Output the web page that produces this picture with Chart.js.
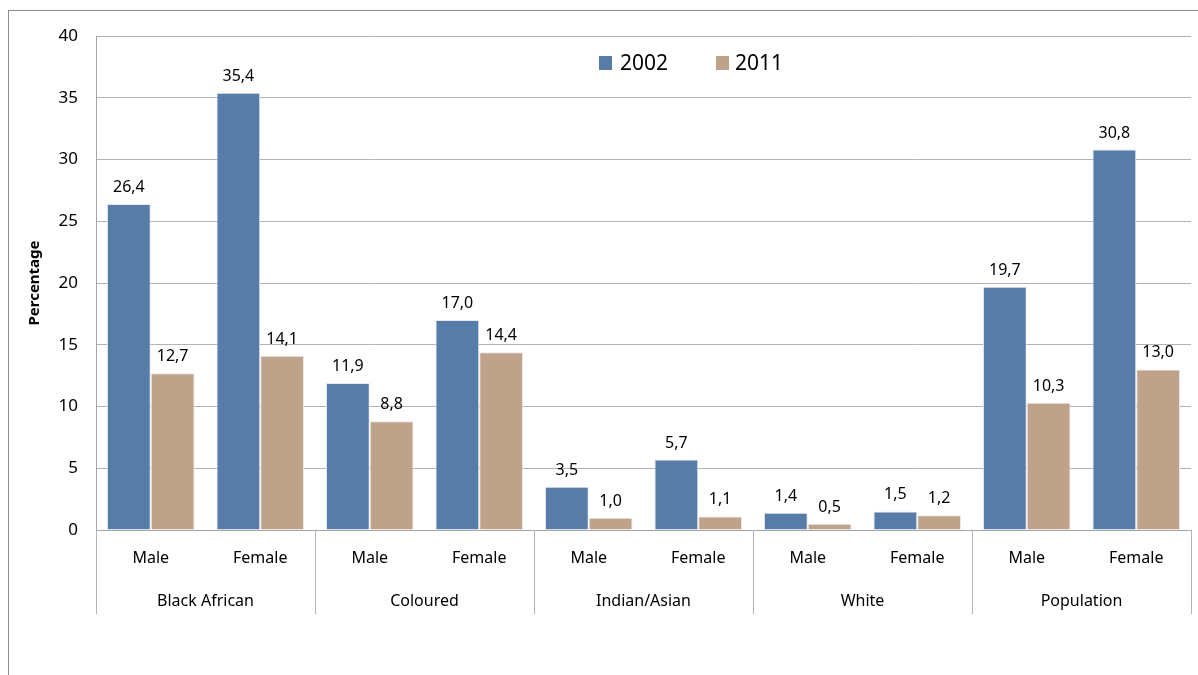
<!DOCTYPE html>
<html>
<head>
<meta charset="utf-8">
<script src="https://cdn.jsdelivr.net/npm/chart.js@4/dist/chart.umd.min.js"></script>
<style>
  html, body { margin: 0; padding: 0; background: #fff; }
  #wrap { width: 1198px; height: 675px; position: relative; }
</style>
</head>
<body>
<div id="wrap"><canvas id="myChart" width="1198" height="675"></canvas></div>
<script>
const sexLabels = ["Male", "Female", "Male", "Female", "Male", "Female", "Male", "Female", "Male", "Female"];
const groupLabels = ["Black African", "Coloured", "Indian/Asian", "White", "Population"];
const values2002 = [26.4, 35.4, 11.9, 17.0, 3.5, 5.7, 1.4, 1.5, 19.7, 30.8];
const values2011 = [12.7, 14.1, 8.8, 14.4, 1.0, 1.1, 0.5, 1.2, 10.3, 13.0];
const seriesNames = ["2002", "2011"];

const FONT = "'Noto Sans', 'Open Sans', sans-serif";
const fmt = v => v.toFixed(1).replace(".", ",");

// Rahmen um das ganze Diagramm
const framePlugin = {
    id: "frame",
    beforeDraw(chart) {
        const ctx = chart.ctx;
        ctx.save();
        ctx.strokeStyle = "#8c8c8c";
        ctx.lineWidth = 1;
        ctx.strokeRect(8.5, 10.5, 1400, 1000);
        ctx.restore();
    },
};

// Werte über den Balken
const valueLabels = {
    id: "valueLabels",
    afterDatasetsDraw(chart) {
        const ctx = chart.ctx;
        ctx.save();
        ctx.font = "16px " + FONT;
        ctx.fillStyle = "#000";
        ctx.textAlign = "center";
        ctx.textBaseline = "alphabetic";
        chart.data.datasets.forEach((ds, di) => {
            chart.getDatasetMeta(di).data.forEach((bar, i) => {
                ctx.fillText(fmt(ds.data[i]), bar.x, bar.y - 12);
            });
        });
        ctx.restore();
    },
};

// Zweistufige Kategorienachse
const multiAxis = {
    id: "multiAxis",
    afterDraw(chart) {
        const ctx = chart.ctx;
        const x = chart.scales.x;
        const area = chart.chartArea;
        const n = sexLabels.length;
        const bottom = area.bottom;
        ctx.save();
        ctx.strokeStyle = "#b3b3b3";
        ctx.lineWidth = 1;
        const step = x.getPixelForValue(1) - x.getPixelForValue(0);
        const seps = [area.left];
        for (let g = 1; g < groupLabels.length; g++) {
            seps.push(x.getPixelForValue(g * 2) - step / 2);
        }
        seps.push(area.right);
        seps.forEach(px => {
            const sx = Math.round(px) + 0.5;
            ctx.beginPath();
            ctx.moveTo(sx, bottom);
            ctx.lineTo(sx, bottom + 84);
            ctx.stroke();
        });
        ctx.font = "16px " + FONT;
        ctx.fillStyle = "#000";
        ctx.textAlign = "center";
        ctx.textBaseline = "middle";
        for (let i = 0; i < n; i++) {
            ctx.fillText(sexLabels[i], x.getPixelForValue(i), bottom + 28);
        }
        groupLabels.forEach((g, gi) => {
            const cx = (x.getPixelForValue(gi * 2) + x.getPixelForValue(gi * 2 + 1)) / 2;
            ctx.fillText(g, cx, bottom + 71);
        });
        ctx.restore();
    },
};

// Legende innerhalb der Zeichenfläche
const innerLegend = {
    id: "innerLegend",
    afterDraw(chart) {
        const ctx = chart.ctx;
        const boxX = [599, 716];
        const textX = [620, 735];
        const y = 63;
        ctx.save();
        ctx.font = "21px " + FONT;
        ctx.textAlign = "left";
        ctx.textBaseline = "middle";
        chart.data.datasets.forEach((ds, i) => {
            ctx.fillStyle = ds.backgroundColor;
            ctx.fillRect(boxX[i], y - 7, 13, 14);
            ctx.fillStyle = "#000";
            ctx.fillText(seriesNames[i], textX[i], y + 1);
        });
        ctx.restore();
    },
};

new Chart(document.getElementById("myChart"), {
    type: "bar",
    data: {
        labels: sexLabels,
        datasets: [
            {
                label: seriesNames[0],
                data: values2002,
                backgroundColor: "#587ca8",
                borderColor: "#e6e9ef",
                borderWidth: 1,
            },
            {
                label: seriesNames[1],
                data: values2011,
                backgroundColor: "#bea38a",
                borderColor: "#ece8e4",
                borderWidth: 1,
            },
        ],
    },
    options: {
        responsive: false,
        animation: false,
        layout: { padding: { left: 0, top: 36, right: 7, bottom: 0 } },
        datasets: { bar: { categoryPercentage: 0.8, barPercentage: 1.0 } },
        plugins: {
            legend: { display: false },
            tooltip: { enabled: false },
        },
        scales: {
            x: {
                ticks: { display: false },
                grid: { display: false, drawTicks: false },
                border: { color: "#a6a6a6" },
                afterFit(scale) { scale.height = 145; },
            },
            y: {
                min: 0,
                max: 40,
                ticks: {
                    stepSize: 5,
                    padding: 18,
                    color: "#000",
                    font: { family: FONT, size: 17 },
                },
                grid: { color: "#b3b3b3", drawTicks: false },
                border: { color: "#a6a6a6" },
                title: {
                    display: true,
                    text: "Percentage",
                    color: "#000",
                    padding: { top: 26, bottom: 0 },
                    font: { family: FONT, size: 15, weight: "bold" },
                },
                afterFit(scale) { scale.width = 96; },
            },
        },
    },
    plugins: [framePlugin, valueLabels, multiAxis, innerLegend],
});
</script>
</body>
</html>
